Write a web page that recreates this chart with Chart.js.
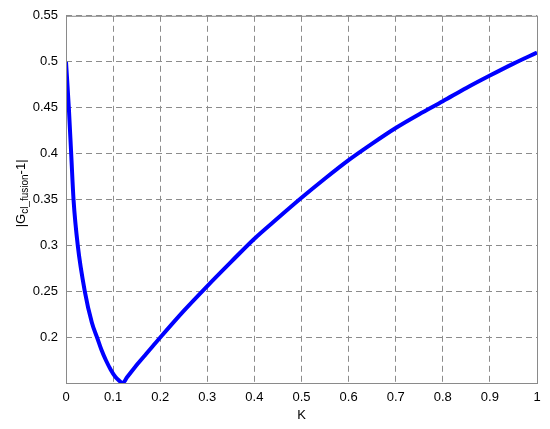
<!DOCTYPE html>
<html>
<head>
<meta charset="utf-8">
<script src="https://cdn.jsdelivr.net/npm/chart.js@4/dist/chart.umd.min.js"></script>
<style>
  html, body { margin: 0; padding: 0; background: #fff; }
  #wrap { width: 550px; height: 429px; }
</style>
</head>
<body>
<div id="wrap"><canvas id="chart"></canvas></div>
<script>
// values
const kValues = [0, 0.006, 0.011, 0.016, 0.025, 0.04, 0.055, 0.066, 0.075, 0.085, 0.095, 0.105, 0.113, 0.12,
  0.13, 0.14, 0.155, 0.17, 0.185, 0.2, 0.25, 0.3, 0.35, 0.4, 0.45, 0.5, 0.55, 0.6, 0.65, 0.7, 0.75, 0.8, 0.85, 0.9, 0.95, 1.0];
const gValues = [0.5, 0.45, 0.4, 0.35, 0.3, 0.25, 0.216, 0.2, 0.187, 0.175, 0.165, 0.157, 0.153, 0.1505,
  0.157, 0.1635, 0.173, 0.182, 0.191, 0.2, 0.229, 0.256, 0.282, 0.3075, 0.33, 0.352, 0.373, 0.393, 0.411, 0.428, 0.443, 0.457, 0.4715, 0.485, 0.498, 0.51];
const xTicks = [0, 0.1, 0.2, 0.3, 0.4, 0.5, 0.6, 0.7, 0.8, 0.9, 1];
const yTicks = [0.2, 0.25, 0.3, 0.35, 0.4, 0.45, 0.5, 0.55];

const FONT = "'Liberation Sans', Arial, Helvetica, sans-serif";

// box round the axes and the y label with its subscript
const matlabAxes = {
  id: "matlabAxes",
  afterDraw(chart) {
    const { ctx, chartArea: a } = chart;
    ctx.save();
    ctx.strokeStyle = "#8a8a8a";
    ctx.lineWidth = 1;
    ctx.strokeRect(a.left + 0.5, a.top + 0.5, a.right - a.left, a.bottom - a.top);

    ctx.translate(21, (a.top + a.bottom) / 2 - 6);
    ctx.rotate(-Math.PI / 2);
    ctx.fillStyle = "#000";
    ctx.textBaseline = "middle";
    const big = "13px " + FONT, small = "10px " + FONT;
    const parts = [["|G", big, 0], ["cl_fusion", small, 4], ["-1|", big, 0]];
    let w = 0;
    parts.forEach(p => { ctx.font = p[1]; w += ctx.measureText(p[0]).width; });
    let x = -w / 2;
    parts.forEach(p => {
      ctx.font = p[1];
      ctx.fillText(p[0], x, p[2]);
      x += ctx.measureText(p[0]).width;
    });
    ctx.restore();
  }
};

new Chart(document.getElementById("chart"), {
  type: "line",
  data: {
    datasets: [{
      data: kValues.map((k, i) => ({ x: k, y: gValues[i] })),
      borderColor: "#0000ff",
      borderWidth: 4,
      pointRadius: 0,
      cubicInterpolationMode: "monotone",
      fill: false
    }]
  },
  options: {
    responsive: true,
    maintainAspectRatio: false,
    animation: false,
    layout: { padding: { left: 0, right: 13, top: 14, bottom: 0 } },
    plugins: { legend: { display: false }, tooltip: { enabled: false } },
    scales: {
      x: {
        type: "linear",
        min: 0,
        max: 1,
        afterBuildTicks: s => { s.ticks = xTicks.map(v => ({ value: v })); },
        afterFit: s => { s.height = 46; },
        border: { display: false, dash: [6, 4] },
        grid: { color: "#8c8c8c", lineWidth: 1, drawTicks: false },
        ticks: {
          color: "#000",
          padding: 7,
          maxRotation: 0,
          font: { family: FONT, size: 13 },
          callback: v => String(Math.round(v * 10) / 10)
        },
        title: {
          display: true,
          text: "K",
          color: "#000",
          font: { family: FONT, size: 13 },
          padding: { top: 0, bottom: 6 }
        }
      },
      y: {
        type: "linear",
        min: 0.1505,
        max: 0.55,
        afterBuildTicks: s => { s.ticks = yTicks.map(v => ({ value: v })); },
        afterFit: s => { s.width = 66; },
        border: { display: false, dash: [6, 4] },
        grid: { color: "#8c8c8c", lineWidth: 1, drawTicks: false },
        ticks: {
          color: "#000",
          padding: 8,
          font: { family: FONT, size: 13 },
          callback: v => String(Math.round(v * 100) / 100)
        }
      }
    }
  },
  plugins: [matlabAxes]
});
</script>
</body>
</html>
